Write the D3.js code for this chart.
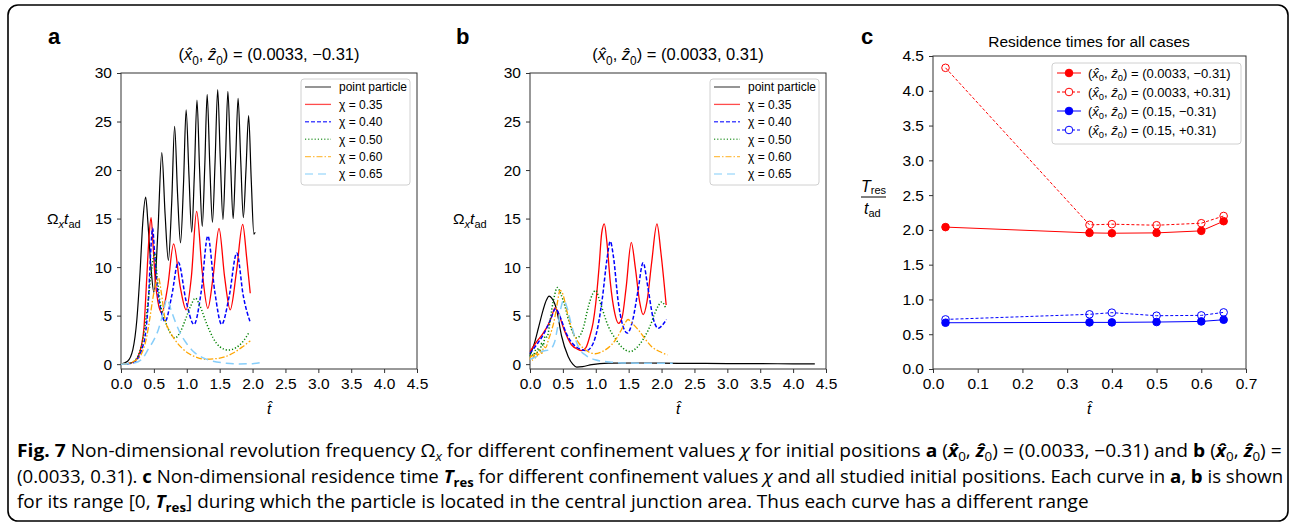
<!DOCTYPE html>
<html>
<head>
<meta charset="utf-8">
<title>Fig. 7</title>
<style>
  body { margin: 0; background: #fff; }
  svg text { font-family: "Liberation Sans", Arial, sans-serif; fill: #000; }
</style>
</head>
<body>
<script src="https://cdn.jsdelivr.net/npm/d3@7/dist/d3.min.js"></script>
<script>

// ---- data: [t, value] ----
var seriesNames = ["point particle", "\u03c7 = 0.35", "\u03c7 = 0.40", "\u03c7 = 0.50", "\u03c7 = 0.60", "\u03c7 = 0.65"];

// panel a, (x0, z0) = (0.0033, -0.31)
var aPoint = [[0,0],[0.1,0.3],[0.18,1.5],[0.24,4.5],[0.29,9.5],[0.33,14.5],[0.375,17.2],[0.41,14.5],[0.45,10.5],[0.5,7.4],
  [0.56,13.5],[0.62,21.8],[0.67,15.5],[0.72,10.7],[0.77,16.5],[0.815,24.5],[0.86,17.5],[0.905,12.5],[0.95,18.5],[0.99,26.2],
  [1.033,19.5],[1.075,13.6],[1.115,19.5],[1.155,27.2],[1.195,20],[1.235,14.2],[1.273,20.3],[1.31,27.8],[1.35,20.5],[1.39,14.6],
  [1.43,20.8],[1.47,28.3],[1.51,21],[1.55,14.9],[1.588,21],[1.625,28.1],[1.665,21],[1.705,15.0],[1.743,21],[1.78,27.4],
  [1.82,21],[1.86,15.1],[1.9,20],[1.94,25.6],[1.98,19],[2.02,13.4],[2.04,13.6]];
var a035 = [[0,0],[0.1,0.05],[0.2,0.25],[0.26,0.8],[0.31,1.9],[0.35,3.8],[0.39,8.7],[0.425,13],[0.457,15.1],[0.49,12],
  [0.52,8.7],[0.56,6.5],[0.62,5.3],[0.71,8],[0.8,12.4],[0.9,8],[0.99,5.6],[1.07,9],[1.15,15.75],[1.235,9.5],[1.32,5.75],
  [1.4,9],[1.49,14.0],[1.575,9],[1.66,5.6],[1.755,9.5],[1.85,14.4],[1.91,11],[1.965,7.3]];
var a040 = [[0,0],[0.1,0.05],[0.2,0.2],[0.28,0.9],[0.33,1.8],[0.365,2.8],[0.42,7],[0.455,12],[0.48,14.0],[0.51,11.5],
  [0.55,8],[0.6,5.8],[0.67,4.4],[0.77,7],[0.87,10.5],[0.99,6.5],[1.11,4.1],[1.22,7.5],[1.32,13.2],[1.425,7.5],[1.53,4.1],
  [1.645,7],[1.76,11.45],[1.86,7],[1.965,4.3]];
var a050 = [[0,0],[0.1,0.05],[0.2,0.3],[0.28,1.2],[0.34,2.8],[0.42,7],[0.47,10],[0.51,11.4],[0.55,9],[0.59,6.6],[0.67,4.5],
  [0.75,3.2],[0.82,2.7],[0.9,3.3],[0.98,4.6],[1.06,6.0],[1.13,6.8],[1.2,6.0],[1.3,4.2],[1.4,2.7],[1.5,1.8],[1.63,1.45],
  [1.75,1.7],[1.85,2.3],[1.95,3.3]];
var a060 = [[0,0],[0.1,0.05],[0.2,0.3],[0.29,0.8],[0.39,2.8],[0.44,4.8],[0.48,6.6],[0.53,8.3],[0.57,8.9],[0.61,7.5],[0.67,4.6],
  [0.74,3.4],[0.82,2.5],[0.92,1.7],[1.03,1.1],[1.15,0.7],[1.28,0.5],[1.42,0.55],[1.58,0.75],[1.72,1.2],[1.85,1.8],[1.965,2.4]];
var a065 = [[0,0],[0.1,0.03],[0.26,0.25],[0.34,0.7],[0.42,1.6],[0.5,2.5],[0.57,3.6],[0.63,5],[0.7,6.7],[0.76,5.6],[0.83,4.3],
  [0.9,3.2],[1.0,2.1],[1.1,1.3],[1.25,0.65],[1.4,0.3],[1.6,0.1],[1.8,0.02],[2.0,0.05],[2.14,0.2]];

// panel b, (x0, z0) = (0.0033, 0.31)
var bPoint = [[0,1.0],[0.06,2.0],[0.127,3.7],[0.2,5.6],[0.25,6.6],[0.29,7.0],[0.33,6.8],[0.405,5.6],[0.48,2.9],[0.58,0.8],
  [0.65,0],[0.71,-0.3],[0.8,-0.25],[0.94,-0.05],[1.19,0.1],[1.6,0.12],[2.0,0.1],[2.5,0.08],[3.0,0.06],[3.5,0.05],[4.0,0.03],[4.33,0.02]];
var b035 = [[0,1.3],[0.05,1.8],[0.1,2.3],[0.18,3.0],[0.28,4.1],[0.33,4.9],[0.38,5.8],[0.43,5.3],[0.51,3.7],[0.63,2.0],
  [0.72,1.55],[0.785,1.4],[0.85,1.7],[0.91,2.9],[0.96,4.3],[1.0,6.3],[1.05,10],[1.09,13.5],[1.13,14.45],[1.17,12.5],
  [1.22,8.5],[1.29,5.2],[1.345,4.2],[1.4,4.8],[1.46,7.8],[1.54,12.55],[1.6,10],[1.665,6.5],[1.72,5.1],[1.78,6.5],
  [1.85,10.5],[1.93,14.45],[1.99,11.5],[2.07,6.1]];
var b040 = [[0,1.1],[0.1,2.0],[0.2,3.0],[0.3,4.4],[0.39,5.7],[0.45,5.0],[0.55,3.2],[0.65,2.1],[0.75,1.6],[0.86,1.4],
  [0.95,2.0],[1.03,3.8],[1.1,6.8],[1.17,10.8],[1.22,12.65],[1.27,11],[1.34,6.5],[1.41,4.0],[1.48,3.2],[1.56,4.5],
  [1.64,7.5],[1.72,10.45],[1.79,8],[1.87,4.8],[1.95,3.7],[2.01,4.0],[2.075,4.6]];
var b050 = [[0,0.8],[0.03,1.2],[0.05,0.7],[0.08,1.4],[0.1,1.0],[0.127,1.65],[0.15,1.3],[0.18,2.2],[0.2,1.9],[0.23,2.9],
  [0.26,2.8],[0.3,4.2],[0.33,5.6],[0.37,7.0],[0.415,7.9],[0.47,7.2],[0.53,6.0],[0.6,4.2],[0.71,2.7],[0.8,3.5],[0.89,6.0],
  [0.95,7.2],[1.0,7.6],[1.06,6.5],[1.19,3.9],[1.3,2.6],[1.39,1.8],[1.52,1.3],[1.65,1.9],[1.75,2.9],[1.83,4.0],[1.9,5.3],
  [1.95,6.0],[2.0,6.4],[2.035,6.2],[2.065,5.7]];
var b060 = [[0,0.5],[0.02,0.9],[0.04,0.4],[0.06,1.0],[0.08,0.6],[0.1,1.2],[0.12,0.8],[0.15,1.4],[0.18,1.1],[0.21,1.8],
  [0.24,1.7],[0.28,2.5],[0.33,3.5],[0.38,4.9],[0.42,6.5],[0.456,7.6],[0.5,7.2],[0.557,5.6],[0.62,4.0],[0.68,2.9],[0.76,2.0],
  [0.835,1.5],[0.91,1.2],[0.99,1.07],[1.1,1.3],[1.24,2.0],[1.32,2.7],[1.39,3.55],[1.45,4.3],[1.49,4.6],[1.54,4.3],
  [1.645,3.55],[1.75,2.6],[1.85,1.8],[1.97,1.3],[2.09,0.95]];
var b065 = [[0,0.5],[0.1,0.8],[0.18,1.3],[0.3,1.5],[0.37,2.2],[0.42,3.8],[0.47,5.8],[0.51,6.6],[0.56,5.9],[0.62,4.3],
  [0.68,2.8],[0.75,1.6],[0.85,0.9],[0.99,0.45],[1.24,0.2],[1.5,0.12],[1.8,0.1],[2.17,0.1]];

// panel c, residence times
var chiValues = [0.028, 0.35, 0.40, 0.50, 0.60, 0.65];
var tresA = [2.04, 1.957, 1.952, 1.957, 1.986, 2.125];   // (0.0033, -0.31)
var tresB = [4.33, 2.072, 2.082, 2.067, 2.096, 2.20];    // (0.0033, +0.31)
var tresC = [0.665, 0.67, 0.67, 0.675, 0.684, 0.708];   // (0.15, -0.31)
var tresD = [0.713, 0.786, 0.81, 0.766, 0.771, 0.814];  // (0.15, +0.31)
var casesRest = ["(0.0033, \u22120.31)", "(0.0033, +0.31)", "(0.15, \u22120.31)", "(0.15, +0.31)"];

var xTicksAB = [0, 0.5, 1.0, 1.5, 2.0, 2.5, 3.0, 3.5, 4.0, 4.5];
var yTicksAB = [0, 5, 10, 15, 20, 25, 30];
var xTicksC = [0, 0.1, 0.2, 0.3, 0.4, 0.5, 0.6, 0.7];
var yTicksC = [0, 0.5, 1.0, 1.5, 2.0, 2.5, 3.0, 3.5, 4.0, 4.5];

// ---- styles ----
var colors = ["#000000", "#ff0000", "#0000ff", "#008000", "#ffa500", "#87cefa"];
var dashes = [null, null, "4,2", "1.2,2", "6,2,1.5,2", "8,5"];
var widths = [1.2, 1.3, 1.5, 1.5, 1.3, 1.5];

var svg = d3.select("body").append("svg")
  .attr("width", 1292).attr("height", 526);

// frame round the whole figure
svg.append("rect")
  .attr("x", 8).attr("y", 5).attr("width", 1280).attr("height", 516)
  .attr("rx", 10).attr("fill", "none").attr("stroke", "#000").attr("stroke-width", 1.6);

function hatText(sel, rest, size) {
  var sh = size * 0.28;
  sel.append("tspan").text("(");
  sel.append("tspan").attr("font-style", "italic").text("x\u0302");
  sel.append("tspan").attr("font-size", size * 0.72).attr("dy", sh).text("0");
  sel.append("tspan").attr("dy", -sh).text(", ");
  sel.append("tspan").attr("font-style", "italic").text("z\u0302");
  sel.append("tspan").attr("font-size", size * 0.72).attr("dy", sh).text("0");
  sel.append("tspan").attr("dy", -sh).text(") = " + rest);
}

function drawAxes(x, y, xt, yt, xfmt, yfmt) {
  var g = svg.append("g");
  g.append("g")
    .attr("transform", "translate(0," + y.range()[0] + ")")
    .call(d3.axisBottom(x).tickValues(xt).tickFormat(xfmt).tickSize(4).tickPadding(5));
  g.append("g")
    .attr("transform", "translate(" + x.range()[0] + ",0)")
    .call(d3.axisLeft(y).tickValues(yt).tickFormat(yfmt).tickSize(4).tickPadding(5));
  g.selectAll(".domain").remove();
  g.selectAll(".tick line").attr("stroke", "#333");
  g.selectAll(".tick text")
    .attr("font-size", "15.5px")
    .attr("font-family", "Liberation Sans, Arial, sans-serif")
    .attr("fill", "#000");
  g.append("rect")
    .attr("x", x.range()[0]).attr("y", y.range()[1])
    .attr("width", x.range()[1] - x.range()[0])
    .attr("height", y.range()[0] - y.range()[1])
    .attr("fill", "none").attr("stroke", "#333").attr("stroke-width", 1);
  return g;
}

function tHatLabel(cx) {
  svg.append("text")
    .attr("x", cx).attr("y", 414)
    .attr("text-anchor", "middle")
    .attr("font-size", "15px").attr("font-style", "italic")
    .text("t\u0302");
}

function omegaLabel(x0) {
  var t = svg.append("text").attr("x", x0).attr("y", 224).attr("font-size", "15.5px");
  t.append("tspan").text("\u03a9");
  t.append("tspan").attr("font-style", "italic").attr("font-size", "11px").attr("dy", 4).text("x");
  t.append("tspan").attr("font-style", "italic").attr("dy", -4).text("t");
  t.append("tspan").attr("font-size", "11px").attr("dy", 4).text("ad");
}

function timePanel(x0, x1, label, labelX, titleRest, yLabelX, data, legX) {
  var x = d3.scaleLinear().domain([0, 4.5]).range([x0, x1]);
  var y = d3.scaleLinear().domain([-0.5, 30]).range([369, 73]);
  drawAxes(x, y, xTicksAB, yTicksAB, d3.format(".1f"), d3.format("d"));

  var line = d3.line()
    .x(function(d) { return x(d[0]); })
    .y(function(d) { return y(d[1]); })
    .curve(d3.curveMonotoneX);

  var curves = svg.append("g");
  data.forEach(function(s, i) {
    curves.append("path")
      .datum(s)
      .attr("d", line)
      .attr("fill", "none")
      .attr("stroke", colors[i])
      .attr("stroke-width", widths[i])
      .attr("stroke-dasharray", dashes[i]);
  });

  // legend
  var lg = svg.append("g").attr("transform", "translate(" + legX + ",79)");
  lg.append("rect").attr("width", 109).attr("height", 106).attr("rx", 3)
    .attr("fill", "#fff").attr("fill-opacity", 0.85).attr("stroke", "#d0d0d0");
  var rows = lg.selectAll("g.row").data(seriesNames).enter().append("g")
    .attr("transform", function(d, i) { return "translate(0," + (8 + i * 17.4) + ")"; });
  rows.append("line").attr("x1", 4).attr("x2", 30).attr("y1", 0).attr("y2", 0)
    .attr("stroke", function(d, i) { return colors[i]; })
    .attr("stroke-opacity", 0.7)
    .attr("stroke-width", function(d, i) { return widths[i]; })
    .attr("stroke-dasharray", function(d, i) { return dashes[i]; });
  rows.append("text").attr("x", 38).attr("y", 4.3).attr("font-size", "12px")
    .text(function(d) { return d; });

  // title, panel letter, axis labels
  var tt = svg.append("text").attr("x", (x0 + x1) / 2).attr("y", 60)
    .attr("text-anchor", "middle").attr("font-size", "16.5px");
  hatText(tt, titleRest, 16.5);
  svg.append("text").attr("x", labelX).attr("y", 44).attr("font-size", "22px")
    .attr("font-weight", "bold").text(label);
  omegaLabel(yLabelX);
  tHatLabel((x0 + x1) / 2);
}

timePanel(121, 417, "a", 48, "(0.0033, \u22120.31)", 47, [aPoint, a035, a040, a050, a060, a065], 301);
timePanel(530, 826, "b", 456, "(0.0033, 0.31)", 453, [bPoint, b035, b040, b050, b060, b065], 710);

// ---- panel c ----
var xc = d3.scaleLinear().domain([0, 0.7]).range([933, 1246]);
var yc = d3.scaleLinear().domain([0, 4.5]).range([369, 56]);
drawAxes(xc, yc, xTicksC, yTicksC, d3.format(".1f"), d3.format(".1f"));

var cSeries = [tresA, tresB, tresC, tresD];
var cColors = ["#ff0000", "#ff0000", "#0000ff", "#0000ff"];
var cDash = [null, "3,2", null, "3,2"];
var cFilled = [true, false, true, false];

var cLine = d3.line()
  .x(function(d, i) { return xc(chiValues[i]); })
  .y(function(d) { return yc(d); });

cSeries.forEach(function(s, k) {
  svg.append("path").datum(s).attr("d", cLine)
    .attr("fill", "none").attr("stroke", cColors[k]).attr("stroke-width", 1)
    .attr("stroke-dasharray", cDash[k]);
  svg.append("g").selectAll("circle").data(s).enter().append("circle")
    .attr("cx", function(d, i) { return xc(chiValues[i]); })
    .attr("cy", function(d) { return yc(d); })
    .attr("r", 3.8)
    .attr("fill", cFilled[k] ? cColors[k] : "none")
    .attr("stroke", cColors[k]).attr("stroke-width", 1);
});

var lc = svg.append("g").attr("transform", "translate(1052,63)");
lc.append("rect").attr("width", 189).attr("height", 81).attr("rx", 3)
  .attr("fill", "#fff").attr("fill-opacity", 0.85).attr("stroke", "#d0d0d0");
casesRest.forEach(function(r, k) {
  var row = lc.append("g").attr("transform", "translate(0," + (10 + k * 19) + ")");
  row.append("line").attr("x1", 5).attr("x2", 29).attr("y1", 0).attr("y2", 0)
    .attr("stroke", cColors[k]).attr("stroke-width", 1).attr("stroke-dasharray", cDash[k]);
  row.append("circle").attr("cx", 17).attr("cy", 0).attr("r", 3.8)
    .attr("fill", cFilled[k] ? cColors[k] : "#fff").attr("stroke", cColors[k]);
  var t = row.append("text").attr("x", 36).attr("y", 4.5).attr("font-size", "13px");
  hatText(t, r, 13);
});

svg.append("text").attr("x", 1089).attr("y", 47).attr("text-anchor", "middle")
  .attr("font-size", "15.5px").text("Residence times for all cases");
svg.append("text").attr("x", 861).attr("y", 44).attr("font-size", "22px")
  .attr("font-weight", "bold").text("c");
var tr = svg.append("text").attr("x", 861).attr("y", 192).attr("font-size", "16px");
tr.append("tspan").attr("font-style", "italic").text("T");
tr.append("tspan").attr("font-size", "11px").attr("dy", 2).text("res");
svg.append("line").attr("x1", 861).attr("x2", 886).attr("y1", 197).attr("y2", 197)
  .attr("stroke", "#000").attr("stroke-width", 1);
var ta = svg.append("text").attr("x", 864).attr("y", 214).attr("font-size", "16px");
ta.append("tspan").attr("font-style", "italic").text("t");
ta.append("tspan").attr("font-size", "11px").attr("dy", 3).text("ad");
tHatLabel(1089);

// ---- caption ----
var capFont = 17.5;
var sub = 4;
var captionLines = [
  { y: 457, w: 1265, parts: [
    ["Fig. 7", "b"], [" Non-dimensional revolution frequency \u03a9", ""], ["x", "si"], [" for different confinement values ", "u"],
    ["\u03c7", "i"], [" for initial positions ", ""], ["a", "b"], [" (", ""], ["x\u0302", "bi"], ["0", "s"], [", ", "u"],
    ["z\u0302", "bi"], ["0", "s"], [") = (0.0033, \u22120.31) and ", "u"], ["b", "b"], [" (", ""], ["x\u0302", "bi"], ["0", "s"],
    [", ", "u"], ["z\u0302", "bi"], ["0", "s"], [") =", "u"]]},
  { y: 483, w: 1267, parts: [
    ["(0.0033, 0.31). ", ""], ["c", "b"], [" Non-dimensional residence time ", ""], ["T", "bi"], ["res", "bs"],
    [" for different confinement values ", "u"], ["\u03c7", "i"], [" and all studied initial positions. Each curve in ", ""],
    ["a", "b"], [", ", ""], ["b", "b"], [" is shown", ""]]},
  { y: 508, w: 1072, parts: [
    ["for its range [0, ", ""], ["T", "bi"], ["res", "bs"], ["] during which the particle is located in the central junction area. Thus each curve has a different range", "u"]]}
];

captionLines.forEach(function(L) {
  var g = svg.append("g").attr("transform", "translate(17," + L.y + ")");
  var t = g.append("text").attr("x", 0).attr("y", 0)
    .attr("font-size", capFont + "px")
    .style("font-family", "'Open Sans', sans-serif")
    .attr("fill", "#111");
  var shifted = false;
  L.parts.forEach(function(p) {
    var ts = t.append("tspan").text(p[0]);
    var f = p[1];
    var isSub = f.indexOf("s") >= 0;
    if (f.indexOf("b") >= 0) ts.attr("font-weight", "bold");
    if (f.indexOf("i") >= 0) ts.attr("font-style", "italic");
    if (isSub) {
      ts.attr("font-size", (capFont * 0.7) + "px");
      if (!shifted) { ts.attr("dy", sub); shifted = true; }
    } else if (shifted) {
      ts.attr("dy", -sub); shifted = false;
    }
  });
  var bw = t.node().getBBox().width;
  t.attr("transform", "scale(" + (L.w / bw) + ",1)");
});

</script>
</body>
</html>
